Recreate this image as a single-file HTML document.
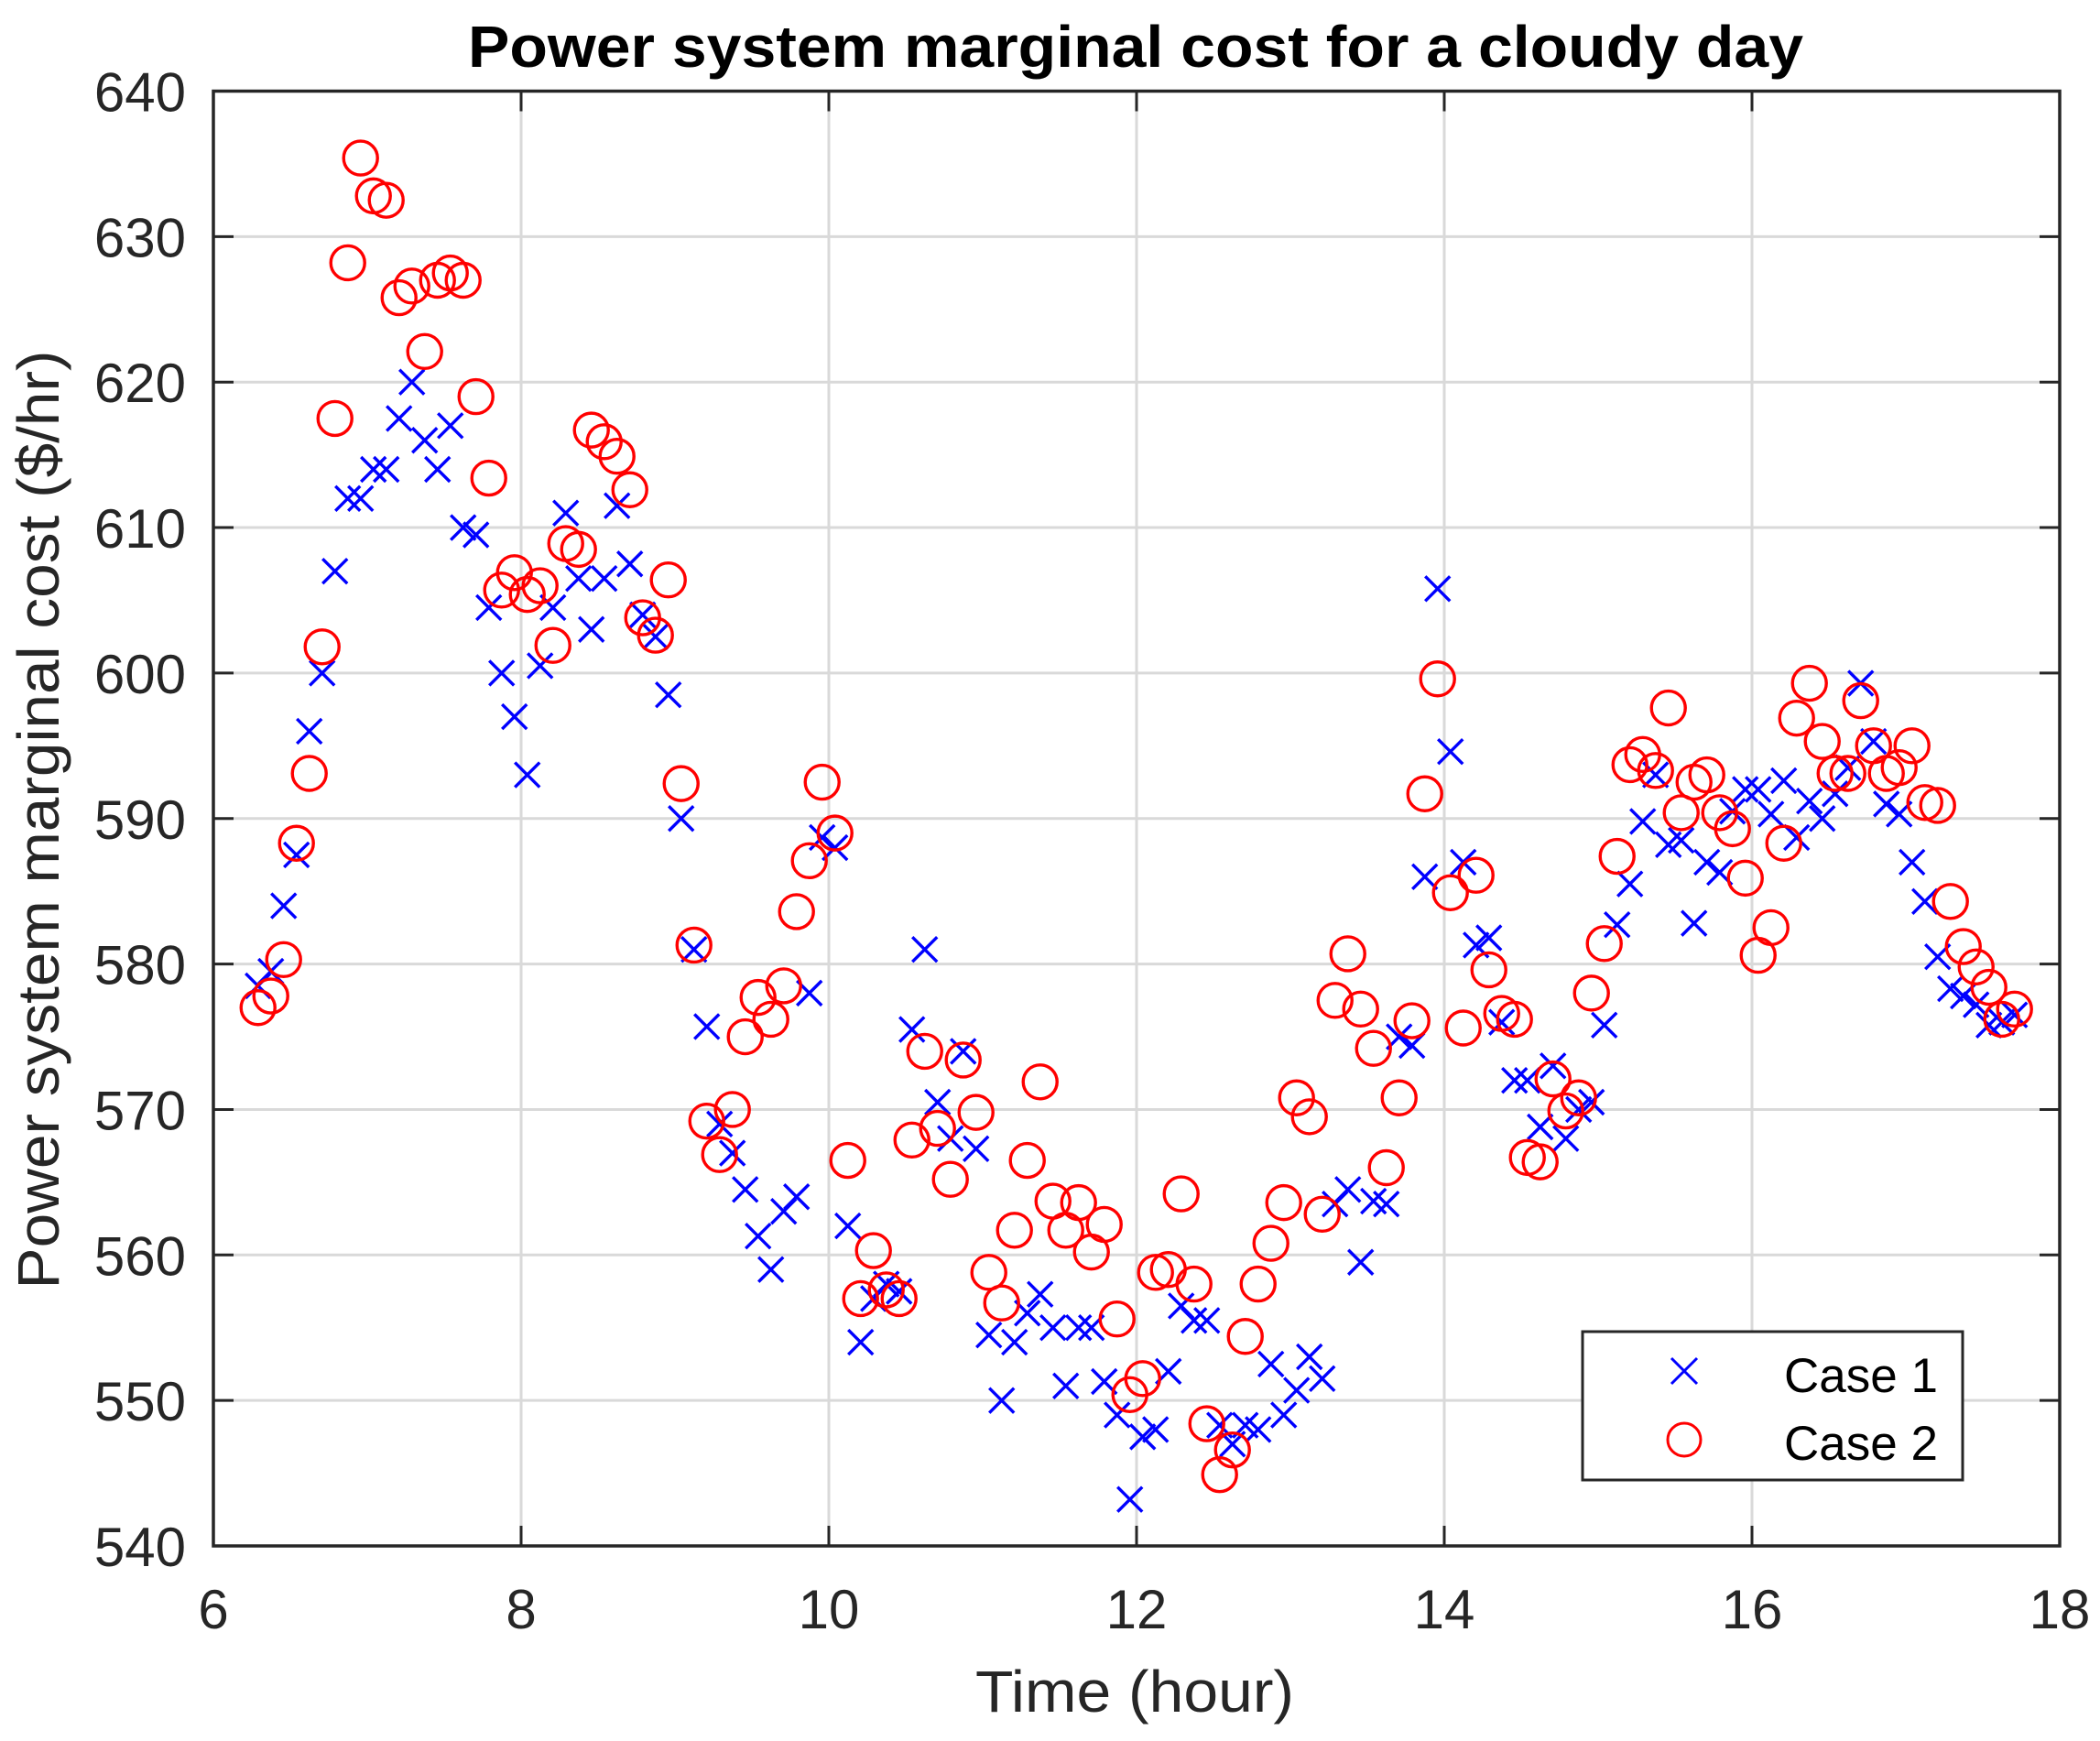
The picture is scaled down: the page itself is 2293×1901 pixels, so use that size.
<!DOCTYPE html>
<html><head><meta charset="utf-8"><style>
html,body{margin:0;padding:0;background:#fff;}
svg{display:block;font-family:"Liberation Sans",Arial,sans-serif;}
</style></head><body>
<svg id="chart" width="2293" height="1901" viewBox="0 0 2293 1901" xmlns="http://www.w3.org/2000/svg">
<rect x="0" y="0" width="2293" height="1901" fill="#fff"/>
<g id="grid"></g>
<g id="marks"></g>
<g id="axes"></g>
<text x="1240" y="73" text-anchor="middle" font-size="64" font-weight="bold" fill="#000" textLength="1458" lengthAdjust="spacingAndGlyphs">Power system marginal cost for a cloudy day</text>
<text x="1239" y="1869" text-anchor="middle" font-size="64" fill="#262626" textLength="348" lengthAdjust="spacingAndGlyphs">Time (hour)</text>
<text transform="translate(64,895) rotate(-90)" x="0" y="0" text-anchor="middle" font-size="64" fill="#262626" textLength="1025" lengthAdjust="spacingAndGlyphs">Power system marginal cost ($/hr)</text>
<g>
<rect x="1728" y="1454" width="415" height="162" fill="#fff" stroke="#262626" stroke-width="3"/>
<g>
<path d="M1825 1483 L1853 1511 M1825 1511 L1853 1483" stroke="#0000ff" stroke-width="3" fill="none"/>
<text x="1948" y="1520" font-size="53" fill="#000">Case 1</text>
</g>
<g>
<circle cx="1839" cy="1572" r="18" stroke="#ff0000" stroke-width="3" fill="none"/>
<text x="1948" y="1594" font-size="53" fill="#000">Case 2</text>
</g>
</g>
</svg>
<script>
const startHour = 6.29;
const stepHour = 1/12;
const case1 = [578.5,579.5,584,587.5,596,600,607,612,612,614,614,617.5,620,616,614,617,610,609.5,604.5,600,597,593,600.5,604.5,611,606.5,603,606.5,611.5,607.5,604,602.5,598.5,590,581,575.7,569,567,564.5,561.3,559,563,564,578,588.7,588,562,554,557,558,557.5,575.5,581,570.5,568,574,567.3,554.5,550,554,556,557.3,555,551,555,555,551.3,549,543.2,547.5,548,552,556.5,555.5,555.5,548.3,547,548.3,548,552.5,549,550.7,553,551.5,563.5,564.5,559.5,563.7,563.5,575,574.4,586,605.8,594.6,587,581.3,581.8,576,572,572,568.8,573,568,570,570.5,575.8,582.7,585.5,589.8,593,588.2,588.5,582.8,587,586.3,590.5,592,592,590.3,592.6,588.7,591.2,590,591.7,593.5,599.3,595.3,591,590.3,587,584.3,580.5,578.3,577.8,577.2,575.8,576,576.5];
const case2 = [577,577.8,580.3,588.3,593.1,601.8,617.5,628.2,635.4,632.8,632.5,625.8,626.6,622.1,627,627.5,627,619,613.4,605.7,606.9,605.4,606,601.9,608.9,608.5,616.7,615.9,614.9,612.6,603.8,602.6,606.4,592.4,581.3,569.2,566.9,570,575,577.7,576.2,578.5,583.6,587.1,592.5,589,566.5,557,560.3,557.6,557,567.9,574,568.7,565.2,573.4,569.8,558.8,556.7,561.7,566.5,571.9,563.7,561.7,563.6,560.2,562.1,555.6,550.4,551.5,558.8,559,564.2,558,548.4,544.9,546.6,554.4,558,560.8,563.6,570.8,569.5,562.8,577.5,580.7,576.9,574.2,566,570.8,576.1,591.7,599.6,584.9,575.6,586.1,579.6,576.6,576.2,566.7,566.4,572.1,569.9,570.8,578,581.4,587.4,593.7,594.4,593.3,597.6,590.4,592.5,593,590.4,589.3,585.9,580.6,582.5,588.3,596.9,599.3,595.3,593.1,593.1,598.1,595,593.1,593.5,595,591.1,590.9,584.3,581.2,579.8,578.4,576.2,576.9];
const xTicks = [6,8,10,12,14,16,18];
const yTicks = [540,550,560,570,580,590,600,610,620,630,640];

const L=233, R=2249, T=99.5, B=1688;
const xMin=6,xMax=18,yMin=540,yMax=640;
function sx(v){return L+(v-xMin)/(xMax-xMin)*(R-L);}
function sy(v){return B-(v-yMin)/(yMax-yMin)*(B-T);}
const NS="http://www.w3.org/2000/svg";
function mk(tag,attrs,parent){const e=document.createElementNS(NS,tag);for(const k in attrs)e.setAttribute(k,attrs[k]);parent.appendChild(e);return e;}
const grid=document.getElementById('grid'),axes=document.getElementById('axes'),marks=document.getElementById('marks');
xTicks.forEach(t=>{
  const g=mk('line',{x1:sx(t),x2:sx(t),y1:T,y2:B,stroke:'#d9d9d9','stroke-width':3},grid);
  
  
  const tk=mk('line',{x1:sx(t),x2:sx(t),y1:B,y2:B-22,stroke:'#262626','stroke-width':3},axes);
  
  
  const tk2=mk('line',{x1:sx(t),x2:sx(t),y1:T,y2:T+22,stroke:'#262626','stroke-width':3},axes);
  
  
  const lb=mk('text',{x:sx(t),y:1778,'text-anchor':'middle','font-size':60,fill:'#262626'},axes);
  lb.textContent=t;
  
  
});
yTicks.forEach(v=>{
  const g=mk('line',{x1:L,x2:R,y1:sy(v),y2:sy(v),stroke:'#d9d9d9','stroke-width':3},grid);
  
  
  const tk=mk('line',{x1:L,x2:L+22,y1:sy(v),y2:sy(v),stroke:'#262626','stroke-width':3},axes);
  
  
  const tk2=mk('line',{x1:R,x2:R-22,y1:sy(v),y2:sy(v),stroke:'#262626','stroke-width':3},axes);
  
  
  const lb=mk('text',{x:203,y:sy(v)+22,'text-anchor':'end','font-size':60,fill:'#262626'},axes);
  lb.textContent=v;
  
  
});
const box=mk('rect',{x:L,y:T,width:R-L,height:B-T,fill:'none',stroke:'#262626','stroke-width':3.5},axes);



case1.forEach((v,i)=>{
  const x=sx(startHour+i*stepHour),y=sy(v),s=13.5;
  const p=mk('path',{d:`M${x-s} ${y-s} L${x+s} ${y+s} M${x-s} ${y+s} L${x+s} ${y-s}`,stroke:'#0000ff','stroke-width':3.4,fill:'none'},marks);
  
  
});
case2.forEach((v,i)=>{
  const c=mk('circle',{cx:sx(startHour+i*stepHour),cy:sy(v),r:18.5,stroke:'#ff0000','stroke-width':3.4,fill:'none'},marks);
  
  
});
</script>
</body></html>
